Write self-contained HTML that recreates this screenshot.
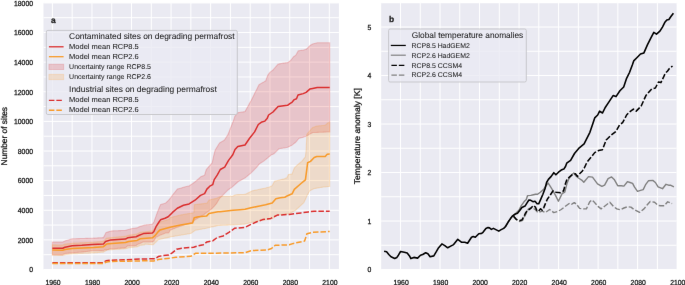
<!DOCTYPE html><html><head><meta charset="utf-8"><style>
html,body{margin:0;padding:0;background:#fff;}
body{width:685px;height:285px;overflow:hidden;}
svg{display:block;text-rendering:geometricPrecision;}
text.lg{fill:#1a1a1a;stroke:#1a1a1a;stroke-width:0.05px;}
#wrap{width:685px;height:285px;will-change:transform;}
text{font-family:"Liberation Sans", sans-serif;fill:#111;stroke:#111;stroke-width:0.25px;}
</style></head><body><div id="wrap">
<svg width="685" height="285" viewBox="0 0 685 285">
<defs><filter id="bl" x="0" y="0" width="685" height="285" filterUnits="userSpaceOnUse" color-interpolation-filters="sRGB"><feConvolveMatrix order="3" kernelMatrix="0.00163 0.03713 0.00163 0.03713 0.84497 0.03713 0.00163 0.03713 0.00163" edgeMode="duplicate"/></filter></defs>
<rect width="685" height="285" fill="#fff"/><g filter="url(#bl)">
<rect x="43.50" y="2.90" width="295.40" height="266.60" fill="#eaeaf2"/>
<path d="M52.40,2.90V269.50 M72.18,2.90V269.50 M91.96,2.90V269.50 M111.74,2.90V269.50 M131.52,2.90V269.50 M151.30,2.90V269.50 M171.08,2.90V269.50 M190.86,2.90V269.50 M210.64,2.90V269.50 M230.42,2.90V269.50 M250.20,2.90V269.50 M269.98,2.90V269.50 M289.76,2.90V269.50 M309.54,2.90V269.50 M329.32,2.90V269.50 M43.50,269.50H338.90 M43.50,254.69H338.90 M43.50,239.88H338.90 M43.50,225.07H338.90 M43.50,210.26H338.90 M43.50,195.44H338.90 M43.50,180.63H338.90 M43.50,165.82H338.90 M43.50,151.01H338.90 M43.50,136.20H338.90 M43.50,121.39H338.90 M43.50,106.58H338.90 M43.50,91.77H338.90 M43.50,76.96H338.90 M43.50,62.14H338.90 M43.50,47.33H338.90 M43.50,32.52H338.90 M43.50,17.71H338.90 M43.50,2.90H338.90" stroke="#fff" stroke-width="1" fill="none"/>
<path d="M52.40,242.00 L53.40,242.00 L54.40,242.00 L55.40,242.00 L56.40,242.00 L57.40,242.00 L58.40,242.00 L59.40,242.00 L60.40,242.00 L61.40,242.00 L62.40,242.00 L62.70,242.00 L63.40,241.67 L64.40,241.19 L64.80,241.00 L65.00,240.94 L65.40,240.82 L66.40,240.52 L67.40,240.23 L68.40,239.93 L69.40,239.63 L70.40,239.34 L71.40,239.04 L72.20,238.80 L72.40,238.79 L73.40,238.76 L74.40,238.73 L75.40,238.70 L76.40,238.67 L77.40,238.64 L78.40,238.61 L79.40,238.58 L80.40,238.55 L81.40,238.52 L81.80,238.51 L82.40,238.49 L83.40,238.46 L84.40,238.43 L85.40,238.40 L86.40,238.37 L87.40,238.34 L88.40,238.31 L89.40,238.28 L90.40,238.25 L91.40,238.22 L92.20,238.20 L92.40,238.19 L93.40,238.14 L94.40,238.08 L95.40,238.03 L96.40,237.97 L97.40,237.92 L98.40,237.87 L99.40,237.81 L100.40,237.76 L101.40,237.71 L102.40,237.65 L103.40,237.60 L104.40,235.71 L105.40,233.82 L105.50,233.63 L106.10,232.50 L106.40,232.42 L107.40,232.14 L108.40,231.85 L109.40,231.57 L110.40,231.29 L110.80,231.18 L111.40,231.01 L111.80,230.90 L112.40,230.88 L113.40,230.84 L114.40,230.81 L115.40,230.77 L116.40,230.73 L117.40,230.70 L118.40,230.66 L119.40,230.62 L120.40,230.59 L121.40,230.55 L122.40,230.51 L123.40,230.48 L124.40,230.44 L125.40,230.40 L125.50,230.40 L126.40,230.13 L127.40,229.83 L127.60,229.77 L128.40,229.52 L129.40,229.22 L130.40,228.92 L130.80,228.80 L131.40,228.70 L132.40,228.55 L133.40,228.39 L134.40,228.23 L135.40,228.07 L136.10,227.96 L136.40,227.91 L137.10,227.80 L137.40,227.65 L138.40,227.15 L139.20,226.75 L139.40,226.65 L140.30,226.20 L140.40,226.17 L141.40,225.92 L142.40,225.66 L143.40,225.41 L144.40,225.15 L145.00,225.00 L145.40,224.96 L146.40,224.87 L147.40,224.77 L148.40,224.68 L149.40,224.58 L150.40,224.49 L151.40,224.39 L152.40,224.30 L153.40,222.77 L153.90,222.00 L154.40,220.61 L155.40,217.83 L156.00,216.17 L156.40,215.06 L157.40,212.28 L157.50,212.00 L158.40,209.78 L159.00,208.30 L159.40,207.31 L160.40,204.85 L160.50,204.60 L161.40,204.34 L162.40,204.04 L163.40,203.75 L164.40,203.45 L165.00,203.28 L165.40,203.16 L165.60,203.10 L166.40,202.32 L167.40,201.35 L168.20,200.57 L168.40,200.38 L169.30,199.50 L169.40,199.37 L170.00,198.56 L170.40,198.03 L171.40,196.68 L172.40,195.34 L172.50,195.21 L173.40,194.00 L173.70,193.60 L174.40,192.75 L175.40,191.53 L176.30,190.44 L176.40,190.32 L177.30,189.22 L177.40,189.10 L178.40,188.80 L179.40,188.51 L180.40,188.21 L181.40,187.91 L182.40,187.61 L182.60,187.55 L183.40,187.32 L183.50,187.29 L184.40,187.02 L184.80,186.90 L185.40,186.76 L186.40,186.54 L187.40,186.31 L188.40,186.08 L189.10,185.92 L189.20,185.90 L189.40,185.76 L190.40,185.07 L191.40,184.37 L192.10,183.88 L192.40,183.68 L193.40,182.98 L194.40,182.29 L195.00,181.87 L195.10,181.80 L195.30,181.62 L195.40,181.54 L196.40,180.65 L197.40,179.77 L198.40,178.89 L199.40,178.01 L200.40,177.13 L200.50,177.04 L201.00,176.60 L201.40,176.44 L202.40,176.06 L203.40,175.67 L204.00,175.43 L204.40,175.28 L204.60,175.20 L205.40,172.52 L206.30,169.50 L206.40,169.39 L206.90,168.82 L207.40,168.25 L208.00,167.57 L208.40,167.12 L209.40,165.98 L209.80,165.53 L210.40,164.84 L211.40,163.71 L212.00,163.03 L212.20,162.80 L212.40,161.86 L212.70,160.44 L213.40,157.14 L213.60,156.20 L214.20,153.84 L214.30,153.45 L214.40,153.05 L215.10,150.30 L215.40,149.80 L216.40,148.14 L217.20,146.82 L217.40,146.48 L218.40,144.82 L219.40,143.17 L219.50,143.00 L219.60,142.94 L220.30,142.52 L220.40,142.46 L221.40,141.86 L221.70,141.68 L222.40,141.26 L223.40,140.66 L224.40,140.06 L224.50,140.00 L224.70,139.68 L224.80,139.52 L225.40,138.56 L226.40,136.97 L227.40,135.38 L228.00,134.42 L228.20,134.10 L228.40,133.56 L229.40,130.88 L230.40,128.20 L231.40,125.73 L232.10,124.01 L232.40,123.27 L232.80,122.28 L233.40,120.80 L234.40,117.66 L234.80,116.40 L235.00,116.15 L235.40,115.66 L236.40,114.43 L237.40,113.19 L237.80,112.70 L238.40,112.61 L239.40,112.46 L240.40,112.30 L241.40,112.15 L242.40,112.00 L243.40,111.84 L244.40,111.69 L245.00,111.60 L245.40,110.87 L246.40,109.06 L247.40,107.25 L248.40,105.43 L249.40,103.62 L250.40,101.81 L250.90,100.90 L251.40,99.90 L252.40,97.90 L253.40,95.90 L254.40,93.90 L254.60,93.50 L255.30,92.10 L255.40,91.90 L256.00,90.70 L256.40,89.90 L257.40,87.90 L258.30,86.10 L258.40,85.90 L259.00,84.70 L259.40,84.46 L259.70,84.28 L260.40,83.87 L261.20,83.39 L261.40,83.27 L262.40,82.68 L262.70,82.50 L263.40,82.14 L264.40,81.62 L264.90,81.36 L265.40,81.10 L265.60,81.00 L266.40,78.89 L267.10,77.05 L267.40,76.25 L267.80,75.20 L268.40,74.38 L268.60,74.11 L269.40,73.02 L270.00,72.20 L270.40,71.91 L271.40,71.17 L271.50,71.10 L272.40,70.44 L273.00,70.00 L273.40,69.54 L273.70,69.19 L274.40,68.38 L275.40,67.22 L276.40,66.07 L277.40,64.91 L278.10,64.10 L278.40,64.04 L278.90,63.95 L279.40,63.85 L280.40,63.66 L281.40,63.47 L282.40,63.27 L283.30,63.10 L283.40,63.09 L284.40,62.98 L285.40,62.86 L286.40,62.75 L287.40,62.63 L287.50,62.62 L287.70,62.60 L288.40,62.09 L289.40,61.35 L290.20,60.77 L290.40,60.62 L290.70,60.40 L291.40,59.51 L292.00,58.74 L292.10,58.61 L292.40,58.23 L293.40,56.96 L293.60,56.70 L294.30,56.22 L294.40,56.15 L295.40,55.47 L295.80,55.20 L296.40,54.14 L296.50,53.97 L297.40,52.38 L298.00,51.33 L298.30,50.80 L298.40,50.79 L298.80,50.73 L299.40,50.64 L300.40,50.50 L301.40,50.36 L302.40,50.21 L303.20,50.10 L303.40,50.05 L303.90,49.93 L304.40,49.81 L305.40,49.57 L306.10,49.40 L306.40,49.10 L307.40,48.10 L307.60,47.90 L308.40,47.10 L309.40,46.10 L309.80,45.70 L310.40,45.33 L311.40,44.71 L312.40,44.09 L312.70,43.90 L313.40,43.71 L314.40,43.45 L315.40,43.18 L316.40,42.91 L317.20,42.70 L317.40,42.70 L318.40,42.70 L319.40,42.70 L320.40,42.70 L321.40,42.70 L322.40,42.70 L323.40,42.70 L324.40,42.70 L325.40,42.70 L326.40,42.70 L327.40,42.70 L328.40,42.70 L329.40,42.70 L329.70,42.70 L329.70,131.90 L329.40,131.91 L328.40,131.95 L327.40,131.99 L326.40,132.04 L325.40,132.08 L324.40,132.12 L323.40,132.16 L322.40,132.20 L321.40,132.24 L320.40,132.28 L319.40,132.32 L318.40,132.37 L317.40,132.41 L317.20,132.41 L316.40,132.45 L315.40,132.49 L314.40,132.53 L313.40,132.57 L312.70,132.60 L312.40,132.76 L311.40,133.27 L310.40,133.79 L309.80,134.10 L309.40,134.37 L308.40,135.05 L307.60,135.60 L307.40,135.68 L306.40,136.05 L306.10,136.17 L305.40,136.43 L304.40,136.81 L303.90,137.00 L303.40,137.15 L303.20,137.21 L302.40,137.44 L301.40,137.74 L300.40,138.03 L299.40,138.32 L298.80,138.50 L298.40,138.99 L298.30,139.12 L298.00,139.49 L297.40,140.23 L296.50,141.34 L296.40,141.46 L295.80,142.20 L295.40,142.51 L294.40,143.30 L294.30,143.38 L293.60,143.92 L293.40,144.08 L292.40,144.86 L292.10,145.10 L292.00,145.15 L291.40,145.45 L290.70,145.80 L290.40,145.95 L290.20,146.05 L289.40,146.45 L288.40,146.95 L287.70,147.30 L287.50,147.33 L287.40,147.35 L286.40,147.52 L285.40,147.69 L284.40,147.86 L283.40,148.03 L283.30,148.05 L282.40,148.20 L281.40,148.37 L280.40,148.54 L279.40,148.71 L278.90,148.80 L278.40,149.30 L278.10,149.60 L277.40,150.30 L276.40,151.30 L275.40,152.30 L274.40,153.30 L273.70,154.00 L273.40,154.10 L273.00,154.22 L272.40,154.41 L271.50,154.70 L271.40,154.78 L270.40,155.63 L270.00,155.96 L269.40,156.47 L268.60,157.14 L268.40,157.31 L267.80,157.81 L267.40,158.15 L267.10,158.40 L266.40,158.97 L265.60,159.62 L265.40,159.78 L264.90,160.18 L264.40,160.59 L263.40,161.40 L262.70,161.82 L262.40,161.99 L261.40,162.59 L261.20,162.71 L260.40,163.18 L259.70,163.60 L259.40,163.96 L259.00,164.43 L258.40,165.15 L258.30,165.26 L257.40,166.34 L256.40,167.52 L256.00,168.00 L255.40,168.60 L255.30,168.70 L254.60,169.40 L254.40,169.60 L253.40,170.60 L252.40,171.60 L251.40,172.60 L250.90,173.10 L250.40,173.52 L249.40,174.35 L248.40,175.18 L247.40,176.01 L246.40,176.84 L245.40,177.67 L245.00,178.00 L244.40,178.32 L243.40,178.85 L242.40,179.38 L241.40,179.91 L240.40,180.44 L239.40,180.97 L238.40,181.50 L237.80,182.03 L237.40,182.39 L236.40,183.28 L235.40,184.17 L235.00,184.52 L234.80,184.70 L234.40,185.06 L233.40,185.94 L232.80,186.48 L232.40,186.83 L232.10,187.10 L231.40,187.60 L230.40,188.30 L229.40,189.01 L228.40,189.72 L228.20,189.86 L228.00,190.00 L227.40,190.60 L226.40,191.60 L225.40,192.60 L224.80,193.20 L224.70,193.30 L224.50,193.50 L224.40,193.60 L223.40,194.60 L222.40,195.60 L221.70,196.30 L221.40,196.60 L220.40,197.60 L220.30,197.70 L219.60,198.40 L219.50,198.57 L219.40,198.73 L218.40,200.39 L217.40,202.04 L217.20,202.38 L216.40,203.70 L215.40,204.89 L215.10,205.25 L214.40,206.08 L214.30,206.20 L214.20,206.30 L213.60,206.90 L213.40,207.10 L212.70,207.80 L212.40,208.10 L212.20,208.30 L212.00,208.50 L211.40,208.95 L210.40,209.70 L209.80,210.15 L209.40,210.45 L208.40,211.20 L208.00,211.50 L207.40,211.95 L206.90,212.32 L206.40,212.70 L206.30,212.77 L205.40,213.45 L204.60,214.05 L204.40,214.20 L204.00,214.50 L203.40,214.86 L202.40,215.46 L201.40,216.06 L201.00,216.30 L200.50,216.60 L200.40,216.66 L199.40,217.26 L198.40,217.85 L197.40,218.45 L196.40,219.04 L195.40,219.64 L195.30,219.70 L195.10,219.87 L195.00,219.95 L194.40,220.46 L193.40,221.30 L192.40,222.15 L192.10,222.40 L191.40,222.63 L190.40,222.95 L189.40,223.28 L189.20,223.35 L189.10,223.38 L188.40,223.61 L187.40,223.93 L186.40,224.26 L185.40,224.59 L184.80,224.78 L184.40,224.91 L183.50,225.21 L183.40,225.24 L182.60,225.50 L182.40,225.57 L181.40,225.90 L180.40,226.23 L179.40,226.57 L178.40,226.90 L177.40,227.23 L177.30,227.27 L176.40,227.57 L176.30,227.60 L175.40,227.99 L174.40,228.41 L173.70,228.71 L173.40,228.84 L172.50,229.23 L172.40,229.27 L171.40,229.70 L170.40,230.13 L170.00,230.30 L169.40,231.78 L169.30,231.85 L168.40,232.82 L168.20,233.03 L167.40,233.00 L166.40,232.97 L165.60,232.94 L165.40,233.07 L165.00,233.32 L164.40,233.55 L163.40,233.92 L162.40,234.29 L161.40,234.66 L160.50,235.00 L160.40,235.05 L159.40,235.51 L159.00,235.70 L158.40,236.10 L157.50,236.70 L157.40,236.74 L156.40,237.09 L156.00,237.23 L155.40,238.31 L154.40,240.10 L153.90,241.00 L153.40,241.30 L152.40,241.90 L151.40,241.92 L150.40,241.93 L149.40,241.95 L148.40,241.97 L147.40,241.98 L146.40,242.00 L145.40,242.02 L145.00,242.02 L144.40,241.94 L143.40,241.79 L142.40,242.30 L141.40,242.80 L140.40,243.31 L140.30,243.36 L139.40,243.60 L139.20,243.65 L138.40,244.02 L137.40,244.49 L137.10,244.63 L136.40,245.20 L136.10,245.44 L135.40,245.51 L134.40,245.61 L133.40,245.71 L132.40,245.81 L131.40,245.91 L130.80,245.97 L130.40,245.95 L129.40,245.91 L128.40,245.87 L127.60,245.83 L127.40,246.02 L126.40,246.96 L125.50,247.80 L125.40,247.81 L124.40,247.88 L123.40,247.95 L122.40,248.02 L121.40,248.10 L120.40,248.17 L119.40,248.24 L118.40,248.31 L117.40,248.39 L116.40,248.46 L115.40,248.53 L114.40,248.60 L113.40,248.68 L112.40,248.75 L111.80,248.79 L111.40,248.72 L110.80,248.62 L110.40,248.75 L109.40,249.07 L108.40,249.39 L107.40,249.72 L106.40,250.04 L106.10,250.14 L105.50,249.37 L105.40,249.43 L104.40,250.01 L103.40,250.60 L102.40,250.62 L101.40,250.64 L100.40,250.65 L99.40,250.67 L98.40,250.69 L97.40,250.71 L96.40,250.72 L95.40,250.74 L94.40,250.76 L93.40,250.78 L92.40,250.80 L92.20,250.80 L91.40,250.90 L90.40,251.02 L89.40,251.15 L88.40,251.27 L87.40,251.39 L86.40,251.52 L85.40,251.64 L84.40,251.77 L83.40,251.89 L82.40,252.01 L81.80,252.09 L81.40,252.12 L80.40,252.19 L79.40,252.27 L78.40,252.34 L77.40,252.41 L76.40,252.49 L75.40,252.56 L74.40,252.64 L73.40,252.71 L72.40,252.79 L72.20,252.80 L71.40,252.87 L70.40,252.96 L69.40,253.06 L68.40,253.15 L67.40,253.24 L66.40,253.33 L65.40,253.42 L65.00,253.46 L64.80,253.59 L64.40,253.78 L63.40,254.26 L62.70,254.60 L62.40,254.60 L61.40,254.60 L60.40,254.60 L59.40,254.60 L58.40,254.60 L57.40,254.60 L56.40,254.60 L55.40,254.60 L54.40,254.60 L53.40,254.60 L52.40,254.60 Z" fill="#da2f2f" fill-opacity="0.2" stroke="#da2f2f" stroke-opacity="0.22" stroke-width="1.1"/>
<path d="M52.40,244.90 L53.40,244.91 L54.40,244.91 L55.40,244.92 L56.40,244.92 L57.40,244.93 L58.40,244.93 L59.40,244.94 L60.40,244.95 L61.40,244.95 L62.40,244.96 L62.70,244.96 L63.40,244.71 L64.40,244.36 L65.00,244.15 L65.40,244.10 L66.40,243.97 L67.40,243.84 L68.40,243.71 L69.40,243.58 L70.40,243.45 L71.40,243.32 L72.20,243.22 L72.40,243.21 L73.40,243.17 L74.40,243.12 L75.40,243.07 L76.40,243.03 L77.40,242.98 L78.40,242.94 L79.40,242.89 L80.40,242.84 L81.40,242.80 L82.40,242.75 L83.40,242.71 L84.40,242.66 L85.40,242.61 L86.40,242.57 L87.40,242.52 L88.40,242.48 L89.40,242.43 L90.40,242.38 L91.40,242.34 L92.40,242.29 L93.40,242.25 L93.60,242.24 L94.40,242.16 L95.40,242.06 L96.40,241.97 L97.40,241.87 L98.40,241.78 L99.40,241.68 L100.40,241.59 L101.40,241.49 L102.40,241.39 L103.40,241.22 L104.40,240.21 L105.40,239.19 L106.40,238.26 L106.60,238.09 L107.40,238.01 L108.40,237.90 L109.40,237.79 L110.40,237.68 L111.40,237.57 L111.80,237.53 L112.40,237.47 L113.40,237.38 L114.40,237.28 L115.40,237.19 L116.40,237.10 L117.40,237.00 L118.40,236.91 L119.40,236.82 L120.40,236.72 L121.40,236.63 L122.40,236.54 L123.40,236.45 L124.40,236.35 L125.40,236.26 L125.50,236.25 L126.40,235.96 L127.40,235.63 L128.40,235.31 L128.70,235.21 L129.40,235.11 L130.40,234.96 L131.40,234.82 L132.40,234.68 L133.40,234.53 L134.40,234.39 L135.40,234.25 L136.40,234.10 L137.10,234.00 L137.40,233.85 L138.40,233.33 L139.40,232.82 L140.30,232.36 L140.40,232.35 L141.40,232.26 L142.40,232.16 L143.40,232.06 L144.40,231.97 L145.00,231.91 L145.40,231.85 L146.40,231.71 L147.40,231.56 L148.40,231.42 L149.40,231.27 L150.40,231.13 L151.40,230.98 L152.40,230.84 L153.10,230.22 L153.40,229.93 L154.40,228.97 L155.00,228.40 L155.40,227.84 L156.40,226.45 L157.40,225.05 L158.30,223.80 L158.40,223.70 L159.40,222.66 L160.00,222.04 L160.40,221.92 L161.40,221.62 L162.40,221.32 L163.40,221.02 L164.40,220.72 L165.40,220.43 L166.40,220.13 L167.40,219.83 L168.40,219.53 L169.40,219.24 L170.00,217.60 L170.40,217.50 L171.40,217.25 L171.50,217.23 L172.40,217.01 L173.40,216.76 L174.40,216.51 L175.40,216.26 L176.40,216.02 L177.40,215.77 L178.40,215.52 L179.40,215.27 L180.40,215.02 L180.50,215.00 L181.40,214.84 L182.40,214.67 L183.40,214.50 L184.40,214.32 L185.40,214.15 L186.40,213.98 L187.40,213.80 L188.40,213.63 L189.40,213.46 L190.40,213.28 L191.00,213.18 L191.40,213.11 L192.40,212.93 L192.60,212.90 L193.40,212.65 L193.90,212.50 L194.20,207.82 L194.40,204.70 L195.30,204.59 L195.40,204.58 L196.40,204.46 L197.40,204.34 L198.40,204.22 L199.40,204.10 L200.40,203.98 L201.40,203.86 L202.40,203.74 L203.40,203.62 L204.40,203.50 L205.40,203.38 L206.40,203.26 L206.50,203.25 L206.80,203.21 L206.90,203.20 L207.40,202.47 L208.40,201.02 L209.00,200.15 L209.10,200.00 L209.40,199.93 L210.40,199.72 L211.40,199.50 L212.40,199.28 L213.40,199.06 L214.40,198.84 L215.40,198.62 L216.40,198.40 L217.40,197.90 L218.00,197.60 L218.40,197.40 L219.40,196.90 L219.60,196.80 L220.00,196.74 L220.40,196.67 L221.40,196.51 L222.40,196.35 L222.70,196.30 L223.40,196.30 L224.40,196.30 L225.40,196.30 L226.40,196.30 L227.40,196.30 L228.40,196.30 L229.40,196.30 L230.40,196.30 L231.40,196.30 L232.20,196.30 L232.40,196.22 L233.00,195.96 L233.40,195.79 L234.40,195.37 L235.40,194.95 L236.00,194.70 L236.40,194.69 L237.40,194.65 L238.40,194.62 L239.40,194.59 L240.00,194.57 L240.40,194.55 L241.40,194.52 L242.40,194.49 L243.40,194.45 L244.40,194.42 L245.00,194.40 L245.40,194.21 L246.40,193.72 L247.40,193.23 L248.40,192.75 L249.40,192.26 L250.40,191.77 L250.90,191.53 L251.40,191.29 L252.40,190.80 L253.40,190.59 L253.80,190.50 L254.40,190.37 L255.40,190.16 L256.40,189.95 L257.40,189.73 L258.40,189.52 L259.40,189.30 L259.70,189.24 L260.40,189.09 L261.40,188.88 L262.40,188.66 L262.70,188.60 L263.40,188.44 L264.40,188.21 L265.40,187.99 L265.60,187.94 L266.40,187.76 L267.40,187.53 L268.40,187.30 L269.30,187.10 L269.40,187.05 L270.40,186.57 L271.40,186.09 L272.20,185.70 L272.40,185.31 L273.40,183.35 L274.40,181.40 L274.50,181.20 L275.40,180.98 L275.90,180.86 L276.40,180.74 L276.70,180.67 L277.40,180.50 L278.40,180.26 L279.40,180.02 L280.30,179.80 L280.40,179.78 L281.40,179.56 L282.40,179.35 L283.40,179.13 L284.00,179.00 L284.40,178.81 L284.80,178.63 L285.40,178.35 L286.40,177.88 L287.00,177.60 L287.40,176.74 L288.40,174.60 L289.20,174.45 L289.40,174.41 L290.40,174.22 L291.40,174.03 L292.10,173.90 L292.40,173.10 L293.40,170.41 L294.30,168.00 L294.40,167.90 L295.10,167.20 L295.40,166.90 L296.40,165.90 L297.30,165.00 L297.40,164.92 L298.40,164.10 L299.40,163.28 L300.40,162.46 L301.00,161.97 L301.40,161.65 L301.70,161.40 L302.40,160.55 L303.40,159.33 L303.90,158.72 L304.40,158.12 L305.40,156.90 L306.10,150.00 L306.40,144.04 L306.90,134.10 L307.40,133.53 L307.60,133.30 L308.40,132.39 L309.40,131.26 L309.80,130.80 L310.40,130.12 L310.50,130.00 L311.40,128.98 L312.40,127.84 L312.70,127.50 L313.40,127.27 L314.20,127.00 L314.40,126.93 L315.40,126.60 L316.40,126.27 L316.80,126.13 L317.20,126.00 L317.40,125.98 L318.40,125.90 L319.40,125.81 L320.40,125.72 L321.40,125.64 L322.40,125.55 L323.10,125.49 L323.40,125.46 L324.40,125.38 L325.20,125.31 L325.30,125.30 L325.40,125.20 L326.40,124.15 L327.20,123.31 L327.40,123.10 L327.50,123.00 L328.40,122.71 L329.40,122.40 L329.70,122.30 L329.70,186.40 L329.40,186.43 L328.40,186.54 L327.50,186.63 L327.40,186.64 L327.20,186.67 L326.40,186.75 L325.40,186.86 L325.30,186.87 L325.20,186.88 L324.40,186.96 L323.40,187.07 L323.10,187.10 L322.40,187.22 L321.40,187.39 L320.40,187.56 L319.40,187.72 L318.40,187.89 L317.40,188.06 L317.20,188.09 L316.80,188.16 L316.40,188.23 L315.40,188.40 L314.40,188.57 L314.20,188.60 L313.40,189.00 L312.70,189.35 L312.40,189.50 L311.40,190.00 L310.50,190.45 L310.40,190.50 L309.80,190.80 L309.40,191.52 L308.40,193.31 L307.60,194.74 L307.40,195.10 L306.90,196.00 L306.40,197.25 L306.10,198.00 L305.40,199.46 L304.40,201.55 L303.90,202.60 L303.40,203.06 L302.40,203.98 L301.70,204.62 L301.40,204.90 L301.00,205.27 L300.40,205.82 L299.40,206.74 L298.40,207.66 L297.40,208.58 L297.30,208.67 L296.40,209.50 L295.40,210.42 L295.10,210.70 L294.40,211.06 L294.30,211.11 L293.40,211.56 L292.40,212.07 L292.10,212.23 L291.40,212.58 L290.40,213.09 L289.40,213.60 L289.20,213.70 L288.40,213.79 L287.40,213.90 L287.00,213.95 L286.40,214.01 L285.40,214.13 L284.80,214.19 L284.40,214.24 L284.00,214.28 L283.40,214.35 L282.40,214.46 L281.40,214.57 L280.40,214.69 L280.30,214.70 L279.40,214.80 L278.40,214.91 L277.40,215.02 L276.70,215.10 L276.40,215.35 L275.90,215.76 L275.40,216.17 L274.50,216.91 L274.40,216.99 L273.40,217.81 L272.40,218.64 L272.20,218.80 L271.40,218.93 L270.40,219.08 L269.40,219.24 L269.30,219.26 L268.40,219.40 L267.40,219.56 L266.40,219.72 L265.60,219.84 L265.40,219.87 L264.40,220.03 L263.40,220.19 L262.70,220.30 L262.40,220.35 L261.40,220.52 L260.40,220.69 L259.70,220.81 L259.40,220.86 L258.40,221.02 L257.40,221.19 L256.40,221.36 L255.40,221.53 L254.40,221.70 L253.80,221.80 L253.40,221.90 L252.40,222.17 L251.40,222.43 L250.90,222.56 L250.40,222.69 L249.40,222.95 L248.40,223.21 L247.40,223.47 L246.40,223.73 L245.40,224.00 L245.00,224.10 L244.40,224.14 L243.40,224.21 L242.40,224.28 L241.40,224.35 L240.40,224.42 L240.00,224.44 L239.40,224.49 L238.40,224.56 L237.40,224.62 L236.40,224.69 L236.00,224.72 L235.40,224.76 L234.40,224.83 L233.40,224.90 L233.00,224.92 L232.40,224.94 L232.20,224.95 L231.40,224.98 L230.40,225.02 L229.40,225.06 L228.40,225.09 L227.40,225.13 L226.40,225.17 L225.40,225.21 L224.40,225.25 L223.40,225.29 L222.70,225.32 L222.40,225.33 L221.40,225.37 L220.40,225.41 L220.00,225.42 L219.60,225.44 L219.40,225.45 L218.40,225.48 L218.00,225.50 L217.40,225.64 L216.40,225.89 L215.40,226.13 L214.40,226.37 L213.40,226.61 L212.40,226.85 L211.40,227.09 L210.40,227.33 L209.40,227.57 L209.10,227.65 L209.00,227.67 L208.40,227.81 L207.40,228.06 L206.90,228.18 L206.80,228.20 L206.50,228.25 L206.40,228.27 L205.40,228.46 L204.40,228.64 L203.40,228.82 L202.40,229.00 L201.40,229.19 L200.40,229.37 L199.40,229.55 L198.40,229.73 L197.40,229.92 L196.40,230.10 L195.40,230.28 L195.30,230.30 L194.40,230.95 L194.20,231.09 L193.90,231.31 L193.40,231.67 L192.60,232.25 L192.40,232.39 L191.40,233.11 L191.00,233.40 L190.40,233.50 L189.40,233.67 L188.40,233.84 L187.40,234.01 L186.40,234.18 L185.40,234.35 L184.40,234.52 L183.40,234.69 L182.40,234.86 L181.40,235.02 L180.50,235.18 L180.40,235.19 L179.40,235.36 L178.40,235.53 L177.40,235.70 L176.40,235.87 L175.40,236.04 L174.40,236.21 L173.40,236.38 L172.40,236.55 L171.50,236.70 L171.40,236.72 L170.40,236.95 L170.00,237.04 L169.40,237.18 L168.40,237.40 L167.40,237.63 L166.40,237.86 L165.40,238.09 L164.40,238.31 L163.40,238.54 L162.40,238.77 L161.40,239.00 L160.40,239.22 L160.00,239.31 L159.40,239.45 L158.40,239.68 L158.30,239.70 L157.40,240.58 L156.40,241.56 L155.40,242.54 L155.00,242.94 L154.40,243.53 L153.40,244.51 L153.10,244.80 L152.40,244.74 L151.40,244.65 L150.40,244.57 L149.40,244.48 L148.40,244.39 L147.40,244.31 L146.40,244.22 L145.40,244.13 L145.00,244.10 L144.40,244.95 L143.40,245.02 L142.40,245.09 L141.40,245.16 L140.40,245.23 L140.30,245.24 L139.40,245.68 L138.40,246.17 L137.40,246.65 L137.10,246.80 L136.40,246.88 L135.40,247.00 L134.40,247.12 L133.40,247.24 L132.40,247.35 L131.40,247.47 L130.40,247.59 L129.40,247.71 L128.70,247.79 L128.40,247.88 L127.40,248.18 L126.40,248.48 L125.50,248.75 L125.40,248.76 L124.40,248.82 L123.40,248.89 L122.40,248.96 L121.40,249.03 L120.40,249.09 L119.40,249.16 L118.40,249.23 L117.40,249.30 L116.40,249.36 L115.40,249.43 L114.40,249.50 L113.40,249.57 L112.40,249.63 L111.80,249.67 L111.40,249.71 L110.40,249.79 L109.40,249.87 L108.40,249.96 L107.40,250.04 L106.60,250.11 L106.40,250.27 L105.40,250.95 L104.40,251.57 L103.40,252.18 L102.40,252.19 L101.40,252.28 L100.40,252.37 L99.40,252.45 L98.40,252.54 L97.40,252.63 L96.40,252.72 L95.40,252.80 L94.40,252.89 L93.60,252.96 L93.40,252.97 L92.40,253.01 L91.40,253.05 L90.40,253.08 L89.40,253.12 L88.40,253.16 L87.40,253.20 L86.40,253.24 L85.40,253.28 L84.40,253.31 L83.40,253.35 L82.40,253.39 L81.40,253.43 L80.40,253.47 L79.40,253.50 L78.40,253.54 L77.40,253.58 L76.40,253.62 L75.40,253.66 L74.40,253.69 L73.40,253.73 L72.40,253.77 L72.20,253.78 L71.40,253.88 L70.40,254.00 L69.40,254.12 L68.40,254.24 L67.40,254.36 L66.40,254.48 L65.40,254.60 L65.00,254.65 L64.40,254.86 L63.40,255.20 L62.70,255.44 L62.40,255.44 L61.40,255.42 L60.40,255.41 L59.40,255.40 L58.40,255.38 L57.40,255.37 L56.40,255.35 L55.40,255.34 L54.40,255.33 L53.40,255.31 L52.40,255.30 Z" fill="#f89b2b" fill-opacity="0.2" stroke="#f89b2b" stroke-opacity="0.22" stroke-width="1.1"/>
<path d="M52.40,262.80 L103.00,262.80 L106.00,260.80 L110.00,260.30 L145.00,258.90 L155.30,258.80 L158.30,256.60 L162.70,255.60 L168.60,255.10 L172.20,252.90 L176.70,249.20 L181.80,248.20 L189.20,247.50 L193.60,247.30 L198.00,245.90 L203.20,244.80 L206.90,241.90 L212.70,240.90 L217.20,237.50 L223.10,236.00 L228.90,232.30 L234.80,228.20 L245.00,227.40 L249.40,225.10 L256.80,221.80 L262.70,219.60 L270.80,218.40 L277.40,215.10 L289.20,214.40 L301.00,212.90 L308.30,211.90 L314.20,211.20 L329.70,211.20" fill="none" stroke="#da2f2f" stroke-width="1.5" stroke-dasharray="5.5 2.0" stroke-linejoin="round"/>
<path d="M52.40,263.60 L103.00,263.50 L106.50,262.00 L110.00,261.50 L145.00,260.80 L153.80,261.00 L158.30,259.60 L167.10,258.50 L175.90,257.30 L190.70,256.30 L195.80,253.20 L211.30,253.20 L245.00,252.70 L250.90,250.70 L267.10,250.00 L271.50,248.50 L275.20,245.30 L289.20,244.80 L293.60,243.40 L304.60,241.10 L306.90,233.80 L312.70,232.30 L327.50,231.60 L329.70,231.60" fill="none" stroke="#f89b2b" stroke-width="1.5" stroke-dasharray="5.5 2.0" stroke-linejoin="round"/>
<path d="M52.40,248.30 L62.70,248.30 L65.00,247.20 L72.20,245.80 L81.80,245.30 L92.20,244.50 L103.40,244.10 L105.50,241.50 L110.80,239.90 L125.50,239.10 L127.60,237.80 L136.10,236.70 L139.20,235.20 L143.40,233.60 L152.40,233.10 L153.90,231.50 L156.00,226.70 L159.00,222.00 L160.50,219.80 L165.00,218.30 L168.20,216.80 L172.50,212.40 L177.30,208.30 L183.50,205.30 L189.10,203.90 L195.00,200.20 L200.50,195.40 L204.60,193.60 L206.90,189.10 L209.80,186.20 L212.70,184.70 L214.20,179.60 L217.20,175.20 L220.30,169.50 L224.70,167.20 L228.40,160.60 L232.80,154.70 L235.00,149.50 L237.80,146.60 L245.00,145.00 L249.40,138.50 L254.60,131.90 L258.30,124.50 L261.20,122.30 L264.90,121.10 L267.10,118.60 L268.60,115.00 L273.00,112.00 L278.10,106.40 L287.50,105.30 L290.20,103.30 L292.00,102.30 L294.30,99.60 L296.50,98.70 L298.00,95.00 L303.20,93.60 L306.10,92.40 L309.80,89.10 L312.70,88.40 L317.20,87.40 L329.70,87.40" fill="none" stroke="#da2f2f" stroke-width="1.5" stroke-linejoin="round"/>
<path d="M52.40,250.10 L62.70,250.20 L65.00,249.40 L72.20,248.50 L93.60,247.60 L103.40,246.70 L106.60,244.10 L111.80,243.60 L125.50,242.50 L128.70,241.50 L137.10,240.40 L140.30,238.80 L152.40,237.80 L155.00,235.70 L158.30,231.60 L160.00,229.90 L170.00,227.30 L180.50,225.00 L192.60,222.90 L194.20,217.80 L198.40,216.80 L206.50,216.10 L209.00,213.50 L218.00,211.80 L220.00,211.70 L233.00,210.30 L240.00,209.70 L245.00,209.30 L250.90,207.80 L259.70,206.00 L265.60,204.80 L272.20,203.10 L275.90,198.70 L280.30,197.80 L284.80,197.20 L287.00,196.00 L292.10,193.80 L294.30,189.30 L301.00,183.50 L305.40,179.80 L306.90,168.70 L307.60,162.80 L310.50,161.40 L314.20,157.50 L316.80,156.50 L325.20,156.40 L327.20,154.20 L329.70,154.10" fill="none" stroke="#f89b2b" stroke-width="1.55" stroke-linejoin="round"/>
<text x="51.1" y="23.4" font-size="8.4" font-weight="bold" style="fill:#262626">a</text>
<rect x="46.3" y="30.4" width="191" height="84.1" rx="1.5" fill="#eaeaf2" fill-opacity="0.8" stroke="#c4c4c8" stroke-opacity="0.9" stroke-width="1.0"/>
<text x="69.10" y="38.84" font-size="8.40" text-anchor="start" textLength="165.50" lengthAdjust="spacingAndGlyphs" class="lg">Contaminated sites on degrading permafrost</text>
<path d="M48.9,46.8H63.6" stroke="#da2f2f" stroke-width="1.3"/>
<text x="69.10" y="48.95" font-size="7.30" text-anchor="start" textLength="69.60" lengthAdjust="spacingAndGlyphs" class="lg">Model mean RCP8.5</text>
<path d="M48.9,56.7H63.6" stroke="#f89b2b" stroke-width="1.3"/>
<text x="69.10" y="58.95" font-size="7.30" text-anchor="start" textLength="69.60" lengthAdjust="spacingAndGlyphs" class="lg">Model mean RCP2.6</text>
<rect x="48.9" y="64.2" width="14.8" height="5.4" fill="#da2f2f" fill-opacity="0.2" stroke="#da2f2f" stroke-opacity="0.2" stroke-width="0.8"/>
<text x="69.10" y="69.25" font-size="7.00" text-anchor="start" textLength="81.90" lengthAdjust="spacingAndGlyphs" class="lg">Uncertainty range RCP8.5</text>
<rect x="48.9" y="74.3" width="14.8" height="5.4" fill="#f89b2b" fill-opacity="0.2" stroke="#f89b2b" stroke-opacity="0.2" stroke-width="0.8"/>
<text x="69.10" y="79.45" font-size="7.00" text-anchor="start" textLength="81.90" lengthAdjust="spacingAndGlyphs" class="lg">Uncertainty range RCP2.6</text>
<text x="69.10" y="92.14" font-size="8.40" text-anchor="start" textLength="147.70" lengthAdjust="spacingAndGlyphs" class="lg">Industrial sites on degrading permafrost</text>
<path d="M48.9,100.3H62.2" stroke="#da2f2f" stroke-width="1.35" stroke-dasharray="5.5 1.95"/>
<text x="69.10" y="101.85" font-size="7.30" text-anchor="start" textLength="69.60" lengthAdjust="spacingAndGlyphs" class="lg">Model mean RCP8.5</text>
<path d="M48.9,110.2H62.2" stroke="#f89b2b" stroke-width="1.35" stroke-dasharray="5.5 1.95"/>
<text x="69.10" y="111.85" font-size="7.30" text-anchor="start" textLength="69.60" lengthAdjust="spacingAndGlyphs" class="lg">Model mean RCP2.6</text>
<text x="33.00" y="272.25" font-size="7.30" text-anchor="end" textLength="3.80" lengthAdjust="spacingAndGlyphs">0</text>
<text x="33.00" y="242.63" font-size="7.30" text-anchor="end" textLength="15.20" lengthAdjust="spacingAndGlyphs">2000</text>
<text x="33.00" y="213.01" font-size="7.30" text-anchor="end" textLength="15.20" lengthAdjust="spacingAndGlyphs">4000</text>
<text x="33.00" y="183.39" font-size="7.30" text-anchor="end" textLength="15.20" lengthAdjust="spacingAndGlyphs">6000</text>
<text x="33.00" y="153.77" font-size="7.30" text-anchor="end" textLength="15.20" lengthAdjust="spacingAndGlyphs">8000</text>
<text x="33.00" y="124.14" font-size="7.30" text-anchor="end" textLength="19.00" lengthAdjust="spacingAndGlyphs">10000</text>
<text x="33.00" y="94.52" font-size="7.30" text-anchor="end" textLength="19.00" lengthAdjust="spacingAndGlyphs">12000</text>
<text x="33.00" y="64.90" font-size="7.30" text-anchor="end" textLength="19.00" lengthAdjust="spacingAndGlyphs">14000</text>
<text x="33.00" y="35.28" font-size="7.30" text-anchor="end" textLength="19.00" lengthAdjust="spacingAndGlyphs">16000</text>
<text x="33.00" y="5.65" font-size="7.30" text-anchor="end" textLength="19.00" lengthAdjust="spacingAndGlyphs">18000</text>
<text x="53.00" y="284.8" font-size="7.30" text-anchor="middle" textLength="15.20" lengthAdjust="spacingAndGlyphs">1960</text>
<text x="92.56" y="284.8" font-size="7.30" text-anchor="middle" textLength="15.20" lengthAdjust="spacingAndGlyphs">1980</text>
<text x="132.12" y="284.8" font-size="7.30" text-anchor="middle" textLength="15.20" lengthAdjust="spacingAndGlyphs">2000</text>
<text x="171.68" y="284.8" font-size="7.30" text-anchor="middle" textLength="15.20" lengthAdjust="spacingAndGlyphs">2020</text>
<text x="211.24" y="284.8" font-size="7.30" text-anchor="middle" textLength="15.20" lengthAdjust="spacingAndGlyphs">2040</text>
<text x="250.80" y="284.8" font-size="7.30" text-anchor="middle" textLength="15.20" lengthAdjust="spacingAndGlyphs">2060</text>
<text x="290.36" y="284.8" font-size="7.30" text-anchor="middle" textLength="15.20" lengthAdjust="spacingAndGlyphs">2080</text>
<text x="329.92" y="284.8" font-size="7.30" text-anchor="middle" textLength="15.20" lengthAdjust="spacingAndGlyphs">2100</text>
<text transform="translate(6.6,136.2) rotate(-90)" x="0" y="0" font-size="8.4" text-anchor="middle" textLength="58.4" lengthAdjust="spacingAndGlyphs">Number of sites</text>
<rect x="381.20" y="2.90" width="295.40" height="266.60" fill="#eaeaf2"/>
<path d="M400.50,2.90V269.50 M420.26,2.90V269.50 M440.02,2.90V269.50 M459.78,2.90V269.50 M479.54,2.90V269.50 M499.30,2.90V269.50 M519.06,2.90V269.50 M538.82,2.90V269.50 M558.58,2.90V269.50 M578.34,2.90V269.50 M598.10,2.90V269.50 M617.86,2.90V269.50 M637.62,2.90V269.50 M657.38,2.90V269.50 M381.20,269.50H676.60 M381.20,245.25H676.60 M381.20,221.00H676.60 M381.20,196.75H676.60 M381.20,172.50H676.60 M381.20,148.25H676.60 M381.20,124.00H676.60 M381.20,99.75H676.60 M381.20,75.50H676.60 M381.20,51.25H676.60 M381.20,27.00H676.60 M381.20,2.75H676.60" stroke="#fff" stroke-width="1" fill="none"/>
<path d="M505.00,227.50 L508.00,222.30 L510.50,218.60 L512.30,216.20 L515.40,213.80 L518.90,210.30 L521.30,205.60 L524.00,201.80 L526.30,199.40 L527.60,195.60 L530.80,195.40 L533.40,194.80 L535.50,194.30 L537.60,194.30 L540.30,192.20 L543.40,189.60 L546.00,185.90 L548.20,183.10 L550.30,186.40 L552.90,190.60 L555.50,195.40 L558.40,201.20 L560.30,197.40 L562.20,193.50 L564.80,192.20 L566.90,183.80 L569.00,178.50 L571.70,174.80 L573.80,172.90 L575.90,175.90 L578.50,178.00 L581.70,180.10 L583.80,182.20 L588.50,176.60 L592.50,177.10 L597.50,183.90 L601.90,186.40 L604.60,185.20 L608.10,178.70 L611.60,176.90 L614.20,179.40 L617.70,185.70 L621.20,185.70 L623.90,186.10 L627.40,181.70 L630.00,182.50 L632.60,183.40 L634.40,186.90 L637.50,191.30 L640.50,190.40 L643.20,189.60 L645.80,184.30 L648.40,180.80 L652.80,180.40 L655.40,182.50 L658.10,186.90 L662.50,188.70 L666.00,184.30 L668.60,185.20 L670.40,185.20 L673.90,186.90" fill="none" stroke="#808080" stroke-width="1.4" stroke-linejoin="round"/>
<path d="M513.50,216.20 L516.40,219.50 L519.60,221.50 L522.70,220.30 L525.90,213.90 L528.50,208.70 L532.20,207.60 L535.40,209.70 L538.00,212.60 L542.20,211.10 L545.40,212.60 L549.60,209.50 L553.80,212.60 L557.50,211.60 L561.20,209.50 L565.40,206.30 L569.60,203.20 L571.70,204.20 L574.30,202.60 L576.90,204.70 L579.60,208.40 L583.30,208.90 L586.40,208.90 L589.60,202.10 L591.70,200.00 L593.80,201.60 L598.00,206.40 L601.10,208.90 L604.60,206.20 L609.80,202.20 L613.30,206.20 L616.80,208.90 L620.40,209.70 L623.90,208.00 L627.40,206.80 L630.90,207.10 L634.40,209.70 L639.60,212.40 L644.00,208.90 L647.50,204.50 L650.20,201.50 L654.60,202.20 L658.10,205.40 L660.70,205.70 L664.20,205.70 L667.70,201.80 L672.10,203.60" fill="none" stroke="#808080" stroke-width="1.4" stroke-dasharray="5.5 2.0" stroke-linejoin="round"/>
<path d="M513.50,216.20 L516.40,219.50 L519.60,220.50 L521.70,220.10 L523.80,217.00 L525.40,213.20 L527.30,210.60 L529.40,209.30 L531.50,207.60 L533.30,205.50 L535.40,207.10 L537.00,210.80 L538.50,211.30 L540.60,208.70 L542.20,210.20 L543.80,207.60 L545.40,203.60 L547.30,199.20 L550.10,195.30 L552.90,191.00 L556.00,192.30 L560.60,192.70 L563.60,190.80 L565.40,183.80 L566.90,179.60 L569.60,176.90 L572.70,174.30 L575.40,173.80 L577.50,176.40 L579.60,173.80 L582.20,171.20 L584.30,168.00 L587.00,162.20 L591.80,156.40 L594.70,152.60 L598.50,150.60 L602.40,149.70 L606.20,140.00 L611.10,135.20 L615.90,131.40 L619.70,124.60 L622.60,122.70 L626.60,115.00 L629.50,112.00 L633.40,109.10 L636.20,111.10 L641.10,106.20 L645.90,95.60 L651.70,88.90 L655.40,88.00 L658.40,82.00 L660.90,82.60 L663.30,77.70 L665.20,73.40 L667.60,71.00 L669.40,68.50 L672.50,66.00" fill="none" stroke="#000" stroke-width="1.55" stroke-dasharray="5.5 2.0" stroke-linejoin="round"/>
<path d="M384.10,251.20 L386.60,251.80 L388.80,254.50 L391.00,256.70 L394.70,258.40 L396.90,257.40 L398.40,255.20 L400.60,251.50 L404.30,252.20 L407.20,253.00 L409.50,255.90 L410.90,258.60 L413.90,257.40 L417.60,258.10 L420.50,255.20 L422.70,254.50 L425.70,252.70 L427.90,253.70 L430.10,256.70 L433.80,255.90 L436.00,252.20 L438.20,248.30 L441.90,243.90 L444.80,245.60 L447.70,247.80 L450.70,246.10 L453.60,244.60 L457.80,239.30 L461.70,242.30 L464.80,242.30 L467.60,243.20 L471.50,237.20 L473.20,236.50 L475.30,237.20 L478.80,233.70 L481.60,233.40 L483.00,232.30 L485.90,228.50 L488.00,227.60 L489.50,227.90 L491.40,229.40 L493.40,228.40 L498.80,231.10 L500.70,229.90 L503.70,228.40 L505.50,226.50 L508.00,222.30 L510.50,218.60 L512.30,216.20 L515.40,214.00 L517.50,213.20 L519.70,210.50 L521.90,207.50 L525.00,206.10 L527.20,202.60 L528.90,200.00 L530.80,200.30 L532.90,201.70 L535.00,201.20 L537.10,203.80 L538.70,203.80 L540.80,199.10 L542.90,194.30 L545.00,188.80 L546.60,182.50 L548.40,179.40 L551.20,176.40 L553.80,172.70 L555.90,174.80 L558.50,172.20 L561.20,170.10 L563.80,169.10 L565.50,166.50 L566.70,163.20 L570.60,160.30 L574.50,153.50 L579.30,147.80 L584.10,143.90 L587.00,138.10 L589.90,132.30 L592.80,123.70 L594.70,117.90 L597.70,115.00 L599.60,111.10 L602.50,113.00 L605.40,107.20 L609.30,101.40 L613.10,95.60 L616.00,96.60 L619.90,90.80 L623.70,87.00 L626.60,78.30 L629.50,72.50 L632.40,64.80 L633.70,60.90 L637.10,57.50 L640.50,54.00 L643.90,52.90 L647.40,44.90 L650.80,38.10 L653.80,32.40 L656.50,34.20 L659.90,31.20 L662.60,26.80 L664.70,22.60 L666.80,20.00 L668.90,19.50 L671.10,16.30 L673.40,13.20" fill="none" stroke="#000" stroke-width="1.6" stroke-linejoin="round"/>
<text x="389.1" y="22.3" font-size="8.4" font-weight="bold" style="fill:#262626">b</text>
<rect x="388.6" y="29.0" width="137.7" height="53.0" rx="1.5" fill="#eaeaf2" fill-opacity="0.8" stroke="#c4c4c8" stroke-opacity="0.9" stroke-width="1.0"/>
<text x="411.80" y="37.70" font-size="8.30" text-anchor="start" textLength="111.40" lengthAdjust="spacingAndGlyphs" class="lg">Global temperature anomalies</text>
<path d="M390.8,45.45H405.8" stroke="#000" stroke-width="1.25"/>
<text x="411.60" y="47.81" font-size="6.90" text-anchor="start" textLength="58.20" lengthAdjust="spacingAndGlyphs" class="lg">RCP8.5 HadGEM2</text>
<path d="M390.8,55.2H405.8" stroke="#808080" stroke-width="1.2"/>
<text x="411.60" y="57.71" font-size="6.90" text-anchor="start" textLength="58.20" lengthAdjust="spacingAndGlyphs" class="lg">RCP2.6 HadGEM2</text>
<path d="M391.4,65.3H404.4" stroke="#000" stroke-width="1.3" stroke-dasharray="5.5 1.95"/>
<text x="411.60" y="67.72" font-size="6.90" text-anchor="start" textLength="50.50" lengthAdjust="spacingAndGlyphs" class="lg">RCP8.5 CCSM4</text>
<path d="M391.4,75.1H404.4" stroke="#808080" stroke-width="1.3" stroke-dasharray="5.5 1.95"/>
<text x="411.60" y="77.42" font-size="6.90" text-anchor="start" textLength="50.50" lengthAdjust="spacingAndGlyphs" class="lg">RCP2.6 CCSM4</text>
<text x="371.20" y="272.25" font-size="7.30" text-anchor="end" textLength="3.80" lengthAdjust="spacingAndGlyphs">0</text>
<text x="371.20" y="223.75" font-size="7.30" text-anchor="end" textLength="3.80" lengthAdjust="spacingAndGlyphs">1</text>
<text x="371.20" y="175.25" font-size="7.30" text-anchor="end" textLength="3.80" lengthAdjust="spacingAndGlyphs">2</text>
<text x="371.20" y="126.75" font-size="7.30" text-anchor="end" textLength="3.80" lengthAdjust="spacingAndGlyphs">3</text>
<text x="371.20" y="78.25" font-size="7.30" text-anchor="end" textLength="3.80" lengthAdjust="spacingAndGlyphs">4</text>
<text x="371.20" y="29.75" font-size="7.30" text-anchor="end" textLength="3.80" lengthAdjust="spacingAndGlyphs">5</text>
<text x="401.10" y="284.8" font-size="7.30" text-anchor="middle" textLength="15.20" lengthAdjust="spacingAndGlyphs">1960</text>
<text x="440.62" y="284.8" font-size="7.30" text-anchor="middle" textLength="15.20" lengthAdjust="spacingAndGlyphs">1980</text>
<text x="480.14" y="284.8" font-size="7.30" text-anchor="middle" textLength="15.20" lengthAdjust="spacingAndGlyphs">2000</text>
<text x="519.66" y="284.8" font-size="7.30" text-anchor="middle" textLength="15.20" lengthAdjust="spacingAndGlyphs">2020</text>
<text x="559.18" y="284.8" font-size="7.30" text-anchor="middle" textLength="15.20" lengthAdjust="spacingAndGlyphs">2040</text>
<text x="598.70" y="284.8" font-size="7.30" text-anchor="middle" textLength="15.20" lengthAdjust="spacingAndGlyphs">2060</text>
<text x="638.22" y="284.8" font-size="7.30" text-anchor="middle" textLength="15.20" lengthAdjust="spacingAndGlyphs">2080</text>
<text x="677.74" y="284.8" font-size="7.30" text-anchor="middle" textLength="15.20" lengthAdjust="spacingAndGlyphs">2100</text>
<text transform="translate(359.5,136.2) rotate(-90)" x="0" y="0" font-size="8.4" text-anchor="middle" textLength="96" lengthAdjust="spacingAndGlyphs">Temperature anomaly [K]</text>
</g></svg></div></body></html>
